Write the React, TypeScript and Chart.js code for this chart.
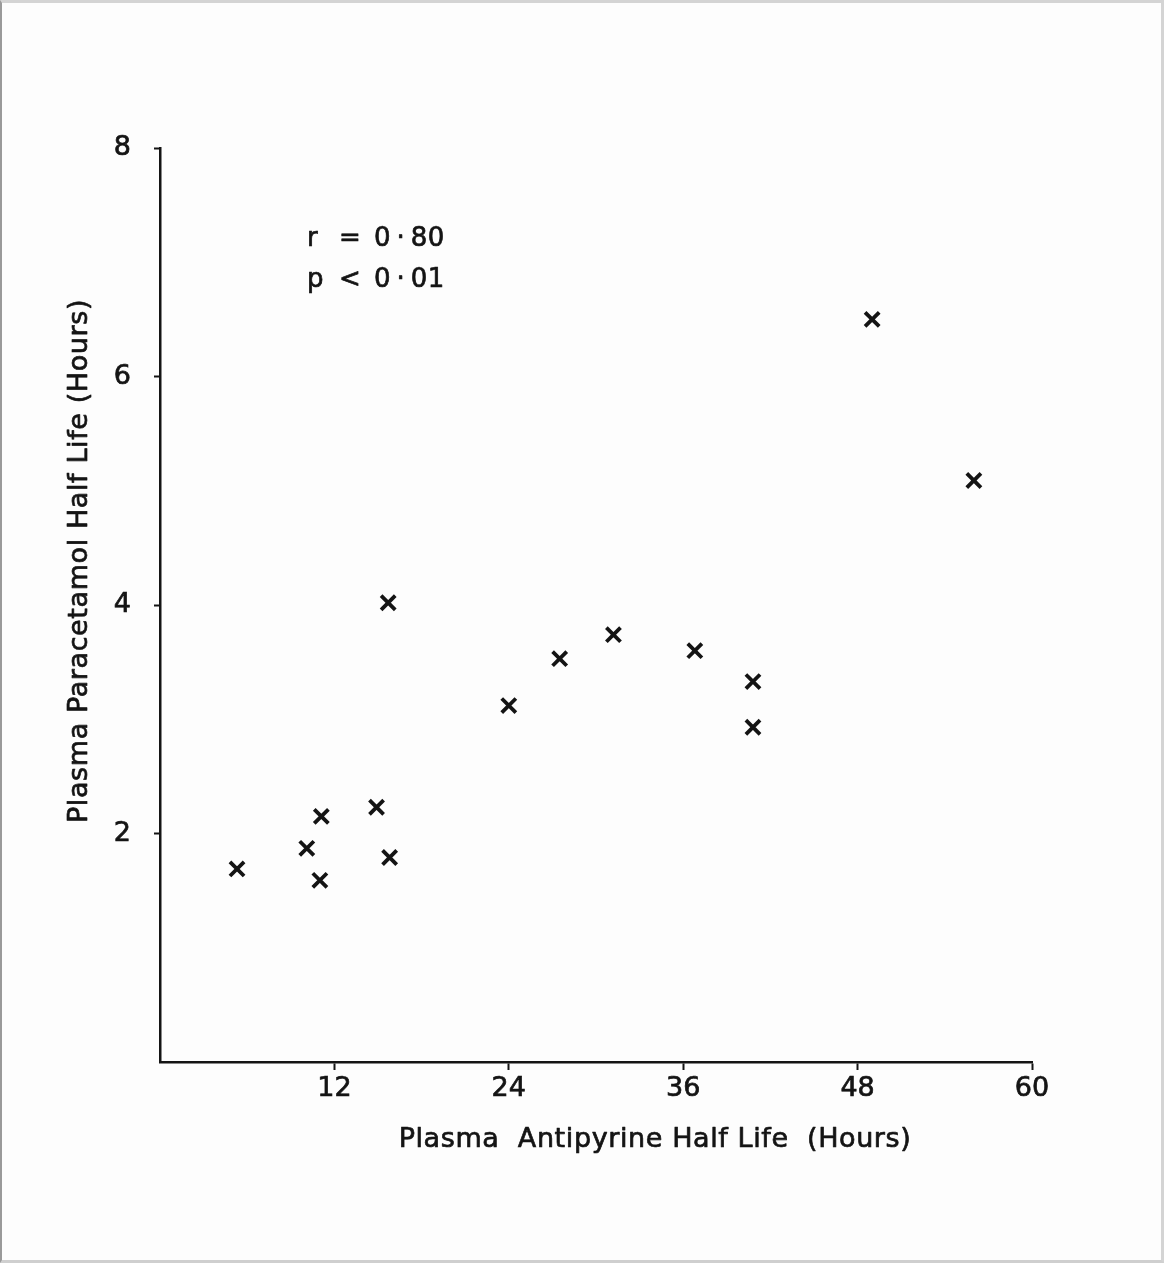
import React, { useEffect, useRef } from "react";
import { Chart, registerables } from "chart.js";

Chart.register(...registerables);

const antipyrineHalfLife = [5.3, 10.1, 11.0, 11.1, 14.9, 15.8, 15.7, 24.0, 27.5, 31.2, 36.8, 40.8, 40.8, 49.0, 56.0];
const paracetamolHalfLife = [1.69, 1.87, 1.59, 2.15, 2.23, 1.79, 4.02, 3.12, 3.53, 3.74, 3.6, 3.33, 2.93, 6.5, 5.09];
const xTicks = [0, 12, 24, 36, 48, 60];
const yTicks = [0, 2, 4, 6, 8];
const xTitle = "Plasma  Antipyrine Half Life  (Hours)";
const yTitle = "Plasma Paracetamol Half Life (Hours)";
const statR = ["r", "=", "0\u2009·\u200980"];
const statP = ["p", "<", "0\u2009·\u200901"];

const FONT = "'DejaVu Sans', Verdana, sans-serif";
const INK = "#141414";

const textPlugin = {
  id: "textPlugin",
  afterDraw(chart: any) {
    const ctx = chart.ctx;
    ctx.save();
    ctx.fillStyle = INK;
    ctx.strokeStyle = INK;
    ctx.lineWidth = 0.7;
    ctx.lineJoin = "round";
    const put = (t: string, x: number, y: number) => {
      ctx.fillText(t, x, y);
      ctx.strokeText(t, x, y);
    };
    ctx.font = `27px ${FONT}`;
    (ctx as any).letterSpacing = "0.6px";
    ctx.textAlign = "center";
    ctx.textBaseline = "middle";
    put(xTitle, 655, 1140);
    ctx.save();
    ctx.translate(80, 561);
    ctx.rotate(-Math.PI / 2);
    put(yTitle, 0, 0);
    ctx.restore();
    (ctx as any).letterSpacing = "0.4px";
    ctx.font = `26px ${FONT}`;
    ctx.textAlign = "left";
    ctx.textBaseline = "alphabetic";
    const xs = [307, 339, 374];
    statR.forEach((t, i) => put(t, xs[i], 246));
    statP.forEach((t, i) => put(t, xs[i], 287));
    ctx.restore();
  },
};

export default function App() {
  const ref = useRef<HTMLCanvasElement>(null);
  useEffect(() => {
    document.body.style.margin = "0";
    const points = antipyrineHalfLife.map((x, i) => ({ x, y: paracetamolHalfLife[i] }));
    const chart = new Chart(ref.current!, {
      type: "scatter",
      data: {
        datasets: [
          {
            data: points,
            pointStyle: "crossRot",
            pointRadius: 10,
            pointBorderWidth: 3.8,
            borderColor: INK,
            backgroundColor: INK,
          },
        ],
      },
      options: {
        responsive: false,
        animation: false,
        events: [],
        layout: { padding: { left: 58, top: 148, right: 132, bottom: 103 } },
        plugins: { legend: { display: false }, tooltip: { enabled: false } },
        scales: {
          x: {
            type: "linear",
            min: xTicks[0],
            max: xTicks[xTicks.length - 1],
            afterBuildTicks: (s: any) => {
              s.ticks = xTicks.map((v) => ({ value: v }));
            },
            afterFit: (s: any) => {
              s.height = 98;
            },
            ticks: {
              color: INK,
              font: { family: FONT, size: 27 },
              padding: 3,
              maxRotation: 0,
              textStrokeColor: INK,
              textStrokeWidth: 0.7,
              callback: (v: any) => (v === 0 ? "" : String(v)),
            },
            grid: {
              drawOnChartArea: false,
              tickLength: 8,
              tickWidth: 2,
              tickColor: (c: any) => (c.tick && c.tick.value === 0 ? "rgba(0,0,0,0)" : INK),
            },
            border: { display: true, color: INK, width: 2.5 },
          },
          y: {
            type: "linear",
            min: yTicks[0],
            max: yTicks[yTicks.length - 1],
            afterBuildTicks: (s: any) => {
              s.ticks = yTicks.map((v) => ({ value: v }));
            },
            afterFit: (s: any) => {
              s.width = 102;
            },
            ticks: {
              color: INK,
              font: { family: FONT, size: 27 },
              padding: 23,
              textStrokeColor: INK,
              textStrokeWidth: 0.7,
              callback: (v: any) => (v === 0 ? "" : String(v)),
            },
            grid: {
              drawOnChartArea: false,
              tickLength: 6,
              tickWidth: 2,
              tickColor: (c: any) => (c.tick && c.tick.value === 0 ? "rgba(0,0,0,0)" : INK),
            },
            border: { display: true, color: INK, width: 2.5 },
          },
        },
      },
      plugins: [textPlugin],
    });
    return () => chart.destroy();
  }, []);

  return (
    <div style={{ position: "absolute", left: 0, top: 0, width: 1164, height: 1263, background: "#fdfdfd" }}>
      <canvas ref={ref} width={1164} height={1263} style={{ display: "block" }} />
      <div
        style={{
          position: "absolute",
          left: 0,
          top: 0,
          width: 1164,
          height: 1263,
          boxSizing: "border-box",
          borderTop: "3px solid #d4d4d4",
          borderRight: "3px solid #d4d4d4",
          borderBottom: "3px solid #cfcfcf",
          borderLeft: "2px solid #9a9a9a",
          pointerEvents: "none",
        }}
      />
    </div>
  );
}
